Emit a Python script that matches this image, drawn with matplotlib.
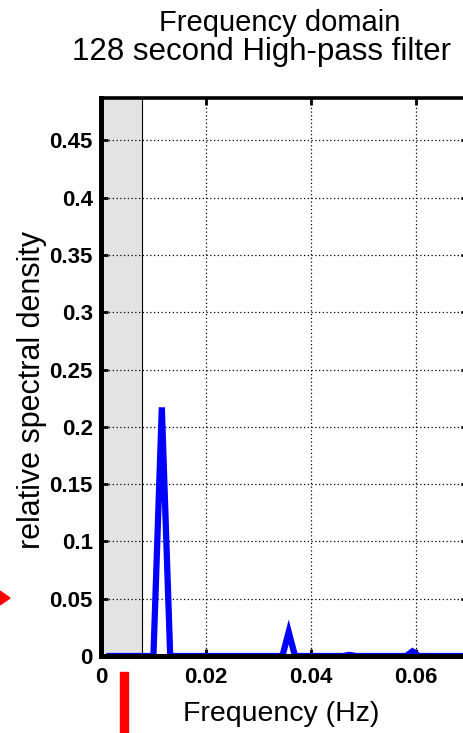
import matplotlib
matplotlib.use('Agg')
from matplotlib import pyplot as plt
from matplotlib.patches import Polygon, Rectangle

plt.rcParams['font.family'] = ['Liberation Sans', 'DejaVu Sans']

# spectrum of the filtered signal (Hz, relative density)
freq_hz = [0.0016, 0.0100, 0.0116, 0.0132, 0.0346, 0.0358, 0.0370,
           0.0462, 0.0474, 0.0486, 0.0582, 0.0594, 0.0606, 0.0750]
densidade = [0.0, 0.0, 0.217, 0.0, 0.0, 0.021, 0.0,
             0.0, 0.001, 0.0, 0.0, 0.004, 0.0, 0.0]

corte_hz = 1 / 128
xticks = [0, 0.02, 0.04, 0.06]
xtick_labels = ['0', '0.02', '0.04', '0.06']
yticks = [0, 0.05, 0.1, 0.15, 0.2, 0.25, 0.3, 0.35, 0.4, 0.45]
ytick_labels = ['0', '0.05', '0.1', '0.15', '0.2', '0.25', '0.3', '0.35', '0.4', '0.45']

W, H = 463, 733
fig = plt.figure(figsize=(W / 100, H / 100), dpi=100)
ax = fig.add_axes([101 / W, 77 / H, 367 / W, 558 / H])

ax.set_xlim(0, 0.07)
ax.set_ylim(0, 0.487)

ax.grid(True, color='black', linestyle=(0, (1, 2)), linewidth=0.9, zorder=0)
ax.axvspan(0, corte_hz, color='#e3e3e3', zorder=1, lw=0)
ax.axvline(corte_hz, color='black', linewidth=0.8, zorder=2)

ax.plot(freq_hz, densidade, color='#0000ff', linewidth=4.5, zorder=2.4,
        solid_joinstyle='miter')

ax.set_xticks(xticks, xtick_labels)
ax.set_yticks(yticks, ytick_labels)
ax.tick_params(direction='in', length=5, width=2, top=True, right=True,
               labelsize=16)
ax.tick_params(axis='y', pad=6)
ax.tick_params(axis='x', pad=8)
for lbl in ax.get_xticklabels() + ax.get_yticklabels():
    lbl.set_fontweight('bold')

for lado in ['left', 'bottom']:
    ax.spines[lado].set_linewidth(3.6)
ax.spines['top'].set_linewidth(2.6)
ax.spines['right'].set_visible(False)

fig.text(281 / W, 1 - 714 / H, 'Frequency (Hz)', ha='center', va='center',
         fontsize=20.5)
fig.text(32 / W, 1 - 390 / H, 'relative spectral density', ha='center',
         va='center', rotation=90, fontsize=22)
fig.text(280 / W, 1 - 23 / H, 'Frequency domain', ha='center', va='center',
         fontsize=21)
fig.text(261 / W, 1 - 52 / H, '128 second High-pass filter', ha='center',
         va='center', fontsize=22.5)

# red markers outside the axes
def px(x, y):
    return (x / W, 1 - y / H)

fig.patches.append(Polygon([px(-6, 587), px(10, 598), px(-6, 609)],
                           closed=True, color='red',
                           transform=fig.transFigure, figure=fig))
x0, y0 = px(120, 733)
fig.patches.append(Rectangle((x0, y0), 8 / W, 61 / H, color='red',
                             transform=fig.transFigure, figure=fig))

plt.savefig('out.png', dpi=100)
plt.close(fig)
